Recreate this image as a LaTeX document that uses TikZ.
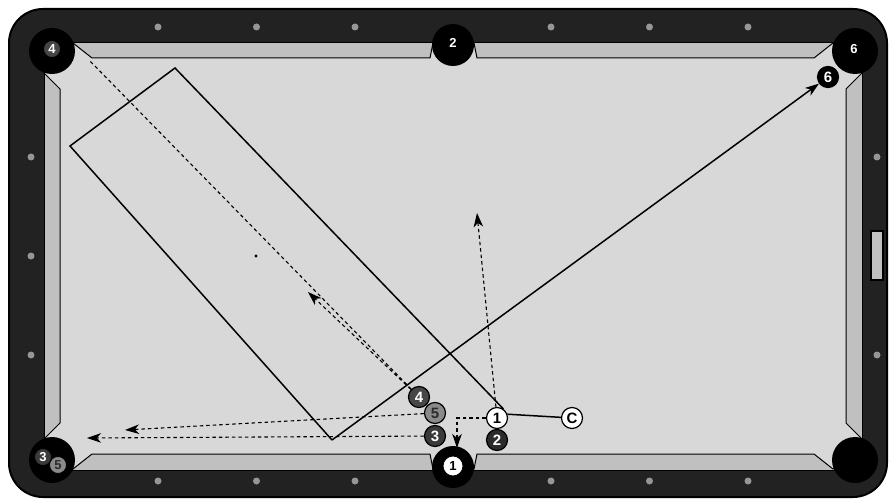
\documentclass[tikz,border=0pt]{standalone}
\usepackage{fontspec}
\setsansfont{Liberation Sans}
\usepackage{xcolor}
\definecolor{rail}{RGB}{34, 34, 34}
\definecolor{cushion}{RGB}{192, 192, 192}
\definecolor{felt}{RGB}{216, 216, 216}
\definecolor{diamond}{RGB}{150, 150, 150}
\definecolor{balltwo}{RGB}{43, 43, 43}
\definecolor{ballthree}{RGB}{58, 58, 58}
\definecolor{ballfour}{RGB}{70, 70, 70}
\definecolor{ballfive}{RGB}{138, 138, 138}
\usepackage{tikz}
\usetikzlibrary{arrows.meta}

\begin{document}
\begin{tikzpicture}[x=1pt, y=-1pt, >={Stealth[length=14pt, width=9.5pt, inset=4pt]},
    ball/.style={circle, draw=black, line width=1.2pt, minimum size=21pt, inner sep=0pt,
        font=\sffamily\bfseries\fontsize{15}{15}\selectfont},
    sunk/.style={ball, line width=0.8pt, minimum size=17pt,
        font=\sffamily\bfseries\fontsize{13}{13}\selectfont},
    shot/.style={line width=1.5pt},
    trail/.style={line width=1.1pt, dash pattern=on 3.5pt off 3pt}]
    \useasboundingbox (0,0) rectangle (889,500);

    % Rail, cushions and cloth
    \draw[line width=2pt, fill=rail, rounded corners=34pt] (9,9) rectangle (887,497);
    \draw[line width=1pt, fill=cushion] (44,43) rectangle (862,470);
    \draw[line width=1pt, fill=felt] (92,58) -- (430,58) -- (433,43) -- (474,43) -- (477,58)
        -- (814,58) -- (833,43) -- (862,73) -- (846,89) -- (846,423) -- (862,439)
        -- (833,469) -- (814,454) -- (477,454) -- (474,469) -- (433,469) -- (430,454)
        -- (92,454) -- (73,469) -- (44,439) -- (60,423) -- (60,89) -- (44,73) -- (73,43) -- cycle;

    % Pockets
    \fill (52,51) circle (23);
    \fill (855,51) circle (23);
    \fill (52,460) circle (23);
    \fill (855,460) circle (23);
    \fill (453,45) circle (21);
    \fill (453,467) circle (21);

    % Diamonds on the rail
    \foreach \x in {158,256.5,355,551,649.5,748} {
        \fill[diamond] (\x,27) circle (3.5);
        \fill[diamond] (\x,481) circle (3.5);
    }
    \foreach \y in {157,256,355} \fill[diamond] (31,\y) circle (3.5);
    \foreach \y in {157,355} \fill[diamond] (877,\y) circle (3.5);
    \draw[line width=1.2pt, fill=cushion] (871,231) rectangle (883,280);

    % Balls already pocketed
    \node[sunk, fill=ballfour, text=white] (p4) at (52,49) {4};
    \node[sunk, minimum size=19pt, fill=black, text=white] (p2) at (453,43) {2};
    \node[sunk, fill=black, text=white] (p6) at (854,49) {6};
    \node[sunk, fill=ballfive, text=balltwo] (p5) at (58,465) {5};
    \node[sunk, fill=ballthree, text=white] (p3) at (43,457) {3};
    \node[sunk, minimum size=20pt, fill=white] (p1) at (453,466) {1};

    % Balls on the table
    \node[ball, fill=black, text=white] (b6) at (828,77) {6};
    \node[ball, fill=white] (b1) at (497,418) {1};
    \node[ball, fill=balltwo, text=white] (b2) at (497,440) {2};
    \node[ball, fill=ballthree, text=white] (b3) at (435,436) {3};
    \node[ball, fill=ballfour, text=white] (b4) at (419,397) {4};
    \node[ball, fill=ballfive, text=balltwo] (b5) at (435,413) {5};
    \node[ball, fill=white] (cue) at (572,418) {C};

    % Shot window
    \coordinate (A) at (70,146);
    \coordinate (B) at (175,68);
    \coordinate (D) at (332,440);
    \draw[shot] (b1.55) -- (B) -- (A) -- (D);
    \draw[shot, ->] (D) -- (b6);
    \draw[shot] (b1.20) -- (cue);
    \fill (256,256) circle (1.6);

    % Ball paths
    \coordinate (m4) at (89,60);
    \coordinate (t4) at (308,292);
    \coordinate (t5) at (125,430);
    \coordinate (t3) at (87,438);
    \coordinate (k1) at (457,418);
    \coordinate (t1) at (457,448);
    \coordinate (n1) at (477,213);
    \draw[trail] (b4) -- (m4);
    \draw[trail, ->] (b4) -- (t4);
    \draw[trail, ->] (b5) -- (t5);
    \draw[trail, ->] (b3) -- (t3);
    \draw[trail, ->] (b1) -- (k1) -- (t1);
    \draw[trail, ->] (b1) -- (n1);
\end{tikzpicture}
\end{document}
